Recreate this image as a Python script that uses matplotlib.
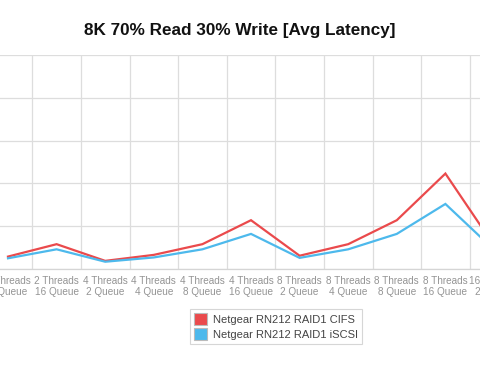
import matplotlib
matplotlib.use("Agg")
import matplotlib.pyplot as plt
from matplotlib.patches import Patch

plt.rcParams['font.family'] = ['Liberation Sans', 'DejaVu Sans']

categories = ["2 Threads\n8 Queue", "2 Threads\n16 Queue", "4 Threads\n2 Queue",
              "4 Threads\n4 Queue", "4 Threads\n8 Queue", "4 Threads\n16 Queue",
              "8 Threads\n2 Queue", "8 Threads\n4 Queue", "8 Threads\n8 Queue",
              "8 Threads\n16 Queue", "16 Threads\n2 Queue"]
cifs = [0.29, 0.58, 0.19, 0.33, 0.58, 1.14, 0.31, 0.58, 1.14, 2.23, 0.55]
iscsi = [0.25, 0.46, 0.17, 0.27, 0.46, 0.82, 0.26, 0.46, 0.82, 1.52, 0.45]
series_names = ["Netgear RN212 RAID1 CIFS", "Netgear RN212 RAID1 iSCSI"]
colors = ["#ea4a4c", "#4db9ec"]

W, H = 480, 372
step = 48.6
px0, px1 = -60, 540  # axes extends beyond the figure (cropped chart)
fig = plt.figure(figsize=(4.8, 3.72), dpi=100)
ax = fig.add_axes([px0 / W, (H - 269) / H, (px1 - px0) / W, (269 - 55) / H])

x = list(range(len(categories)))
ax.plot(x, cifs, color=colors[0], lw=1.6, solid_joinstyle='miter', zorder=3)
ax.plot(x, iscsi, color=colors[1], lw=1.6, solid_joinstyle='miter', zorder=3)

ax.set_xticks(x)
ax.set_xticklabels(categories, fontsize=7.2, color="#949494", linespacing=1.12)
ax.tick_params(axis='x', length=0, pad=5)
ax.set_xticks([i + 0.5 for i in range(-2, len(categories))], minor=True)
ax.tick_params(axis='x', which='minor', length=0)
ax.set_yticks([0, 1, 2, 3, 4, 5])
ax.tick_params(axis='y', length=0, labelleft=False)

ax.set_xlim((px0 - 8) / step, (px1 - 8) / step)
ax.set_ylim(0, 5)

ax.grid(True, which='minor', axis='x', color="#dddddd", lw=0.9)
ax.grid(True, which='major', axis='y', color="#dddddd", lw=0.9)
ax.grid(False, which='major', axis='x')
for s in ["top", "left", "right"]:
    ax.spines[s].set_visible(False)
ax.spines["bottom"].set_color("#d5d5d5")
ax.spines["bottom"].set_linewidth(0.9)

fig.text(0.5, 1 - 30 / H, "8K 70% Read 30% Write [Avg Latency]", ha='center', va='center',
         fontsize=12.3, fontweight='bold', color="#111111")

handles = [Patch(facecolor=c, edgecolor="#bbbbbb", lw=0.8) for c in colors]
leg = fig.legend(handles, series_names, loc='center', bbox_to_anchor=(276 / W, 1 - 326.5 / H),
                 fontsize=8, frameon=True, fancybox=False, handlelength=1.2, handleheight=1.2,
                 handletextpad=0.5, borderpad=0.4, labelspacing=0.35, labelcolor="#444444")
leg.get_frame().set_edgecolor("#cccccc")
leg.get_frame().set_linewidth(0.8)

fig.savefig("out.png", dpi=100)
